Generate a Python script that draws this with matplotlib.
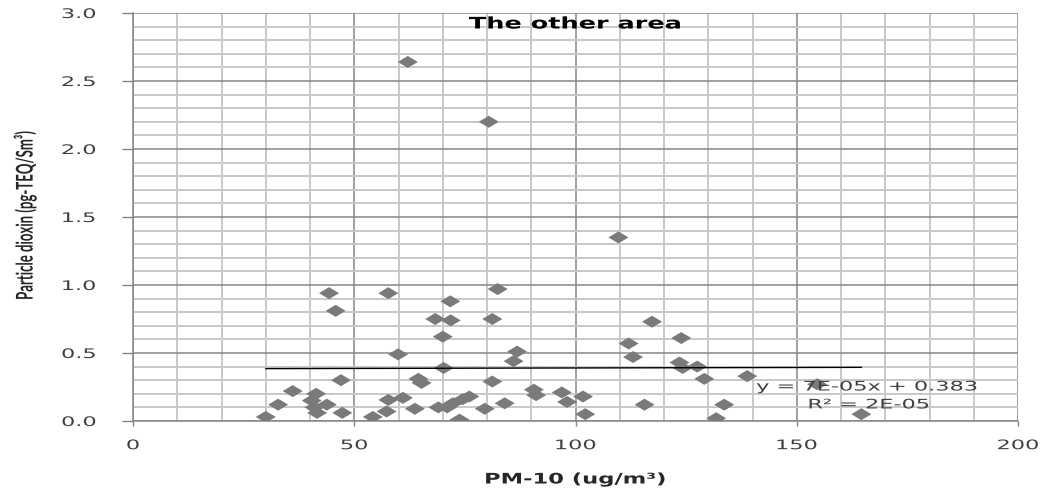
import matplotlib
matplotlib.use("Agg")
import matplotlib.pyplot as plt
import numpy as np
from matplotlib.patheffects import AbstractPathEffect
from matplotlib.transforms import Affine2D
from matplotlib.ticker import MultipleLocator

# PM-10 concentration (ug/m3) and particle-bound dioxin (pg-TEQ/Sm3)
pm10 = [30.0, 32.8, 36.1, 40.4, 41.4, 41.0, 43.8, 41.6, 44.3, 45.8,
        47.0, 47.3, 54.2, 57.3, 57.7, 57.7, 59.9, 61.0, 62.1, 63.7,
        64.5, 65.2, 68.3, 70.0, 70.2, 71.8, 71.7, 69.0, 71.0, 72.3,
        73.8, 74.5, 76.0, 79.5, 80.4, 81.2, 81.2, 82.4, 84.0, 86.0,
        86.8, 90.6, 91.1, 96.9, 98.1, 101.7, 102.2, 109.7, 112.0, 113.0,
        115.6, 117.3, 123.5, 123.9, 124.2, 127.5, 129.1, 131.8, 133.6, 138.8,
        154.6, 164.6]
dioxin = [0.03, 0.12, 0.22, 0.15, 0.20, 0.10, 0.12, 0.06, 0.94, 0.81,
          0.30, 0.06, 0.03, 0.07, 0.155, 0.94, 0.49, 0.17, 2.64, 0.09,
          0.31, 0.28, 0.75, 0.62, 0.39, 0.74, 0.88, 0.10, 0.10, 0.13,
          0.01, 0.16, 0.18, 0.09, 2.20, 0.75, 0.29, 0.97, 0.13, 0.44,
          0.51, 0.23, 0.19, 0.21, 0.14, 0.18, 0.05, 1.35, 0.57, 0.47,
          0.12, 0.73, 0.43, 0.61, 0.39, 0.40, 0.31, 0.02, 0.12, 0.33,
          0.27, 0.05]

# Linear trendline as reported on the chart
trend_slope = 7e-05
trend_intercept = 0.383
trend_label = "y = 7E-05x + 0.383"
r2_label = "R² = 2E-05"

title_text = "The other area"
x_label = "PM-10 (ug/m³)"
y_label = "Particle dioxin (pg-TEQ/Sm³)"
x_ticks = [0, 50, 100, 150, 200]
y_ticks = [0.0, 0.5, 1.0, 1.5, 2.0, 2.5, 3.0]


class Widen(AbstractPathEffect):
    """Stretch a text path horizontally about its own centre."""

    def __init__(self, sx):
        super().__init__()
        self.sx = sx

    def draw_path(self, renderer, gc, tpath, affine, rgbFace=None):
        ext = tpath.get_extents(affine)
        cx = 0.5 * (ext.x0 + ext.x1)
        wide = affine + Affine2D().translate(-cx, 0).scale(self.sx, 1.0).translate(cx, 0)
        renderer.draw_path(gc, tpath, wide, rgbFace)


W, H, DPI = 1043, 488, 100
fig = plt.figure(figsize=(W / DPI, H / DPI), dpi=DPI)
fig.patch.set_facecolor("white")

L, R, T, B = 133, 1018, 13, 421
ax = fig.add_axes([L / W, 1 - B / H, (R - L) / W, (B - T) / H])
ax.set_xlim(0, 200)
ax.set_ylim(0, 3.0)

# grid: light minor lines, darker major lines
ax.xaxis.set_major_locator(MultipleLocator(50))
ax.xaxis.set_minor_locator(MultipleLocator(10))
ax.yaxis.set_major_locator(MultipleLocator(0.5))
ax.yaxis.set_minor_locator(MultipleLocator(0.1))
ax.grid(which="minor", color="#c8c8c8", linewidth=1.4, zorder=0)
ax.grid(which="major", color="#868686", linewidth=1.1, zorder=0)
ax.set_axisbelow(True)
ax.set_xticks(x_ticks)
ax.set_yticks(y_ticks)
ax.set_xticklabels([f"{v:d}" for v in x_ticks])
ax.set_yticklabels([f"{v:.1f}" for v in y_ticks])

for side in ("top", "right"):
    ax.spines[side].set_visible(False)
for side in ("left", "bottom"):
    ax.spines[side].set_color("#868686")
    ax.spines[side].set_linewidth(1.1)

ax.tick_params(which="minor", length=0)
ax.tick_params(axis="y", which="major", direction="out", length=8, width=1.0,
               color="#868686", labelsize=9.5, labelcolor="#404040", pad=23.5)
ax.tick_params(axis="x", which="major", direction="out", length=3.6, width=1.0,
               color="#868686", labelsize=9.5, labelcolor="#404040", pad=9.5)

# data points as flat diamonds
diamond = [(-1, 0), (0, 0.6), (1, 0), (0, -0.6), (-1, 0)]
ax.scatter(pm10, dioxin, marker=diamond, s=14.4 ** 2, color="#7a7a7a",
           edgecolors="none", zorder=3)

# trendline over the data range
xt = np.array([min(pm10), max(pm10)])
ax.plot(xt, trend_slope * xt + trend_intercept, color="black", linewidth=1.0, zorder=4)

wide_regular = [Widen(1.7)]
eq1 = ax.text(165.9, 0.25, trend_label, ha="center", va="center",
              fontsize=9.5, color="#404040", zorder=5)
eq2 = ax.text(166.3, 0.118, r2_label, ha="center", va="center",
              fontsize=9.5, color="#404040", zorder=5)
eq1.set_path_effects(wide_regular)
eq2.set_path_effects(wide_regular)

ttl = ax.text(0.5, (B - 24) / (B - T), title_text, transform=ax.transAxes,
              ha="center", va="center", fontsize=11.5, fontweight="bold",
              color="black", zorder=5)
ttl.set_path_effects([Widen(1.6)])

ax.set_xlabel(x_label, fontsize=10.5, fontweight="bold", color="#262626", va="center")
ax.xaxis.set_label_coords(0.5, (B - 479) / (B - T))
ax.xaxis.label.set_path_effects([Widen(1.55)])

ax.set_ylabel(y_label, fontsize=9.5, fontweight="bold", family="Lato",
              color="#262626", va="center")
ax.yaxis.set_label_coords((25 - L) / (R - L), (B - 215) / (B - T))
ax.yaxis.label.set_path_effects([Widen(1.75)])

for lab in ax.get_xticklabels() + ax.get_yticklabels():
    lab.set_path_effects(wide_regular)

fig.savefig("out.png", dpi=DPI, facecolor="white")
